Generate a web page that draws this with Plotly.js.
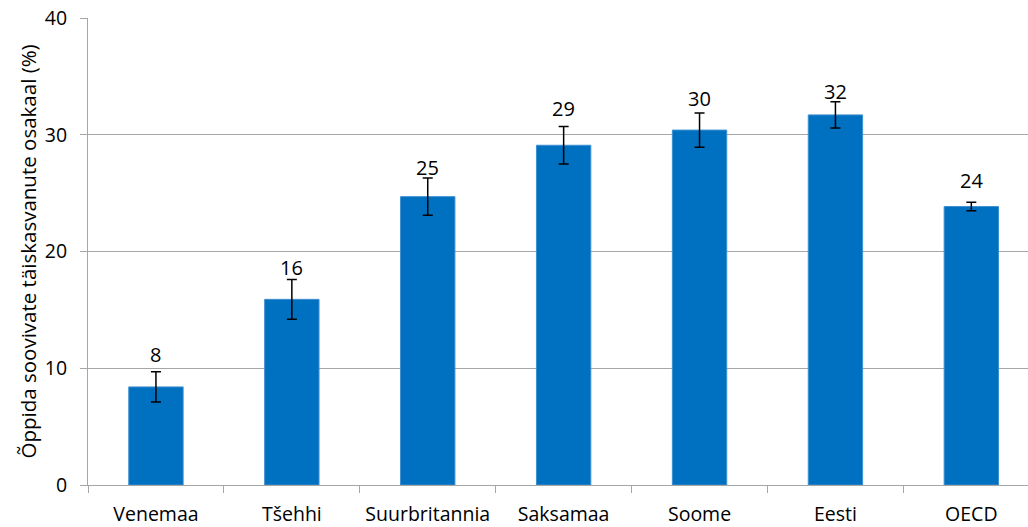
<!DOCTYPE html>
<html>
<head>
<meta charset="utf-8">
<script src="https://cdn.plot.ly/plotly-3.0.1.min.js"></script>
<style>html,body{margin:0;padding:0;background:#fff;}#chart{width:1028px;height:527px;}</style>
</head>
<body>
<div id="chart"></div>
<script>
const categories = ["Venemaa", "Tšehhi", "Suurbritannia", "Saksamaa", "Soome", "Eesti", "OECD"];
const values = [8.4, 15.9, 24.7, 29.1, 30.4, 31.7, 23.85];
const errors = [1.3, 1.7, 1.6, 1.6, 1.46, 1.12, 0.36];
const labels = ["8", "16", "25", "29", "30", "32", "24"];
const yTicks = [0, 10, 20, 30, 40];
const yTitle = "Õppida soovivate täiskasvanute osakaal (%)";

// label vertical offsets above bar top (px), a style setting
const labelShift = [32, 32, 29, 37, 32, 23, 26];

const FONT = "Open Sans, Noto Sans, sans-serif";
const GRID = "#a6a6a6";

const trace = {
  type: "bar",
  x: categories,
  y: values,
  width: 0.4,
  marker: { color: "#0070c0", line: { color: "#3d8fd1", width: 1 } },
  error_y: { type: "data", array: errors, visible: true, color: "#000", thickness: 1.5, width: 5 },
  hoverinfo: "none"
};

const annotations = categories.map((c, i) => ({
  x: c, y: values[i], xref: "x", yref: "y",
  text: labels[i], showarrow: false,
  yanchor: "middle", yshift: labelShift[i],
  font: { family: FONT, size: 20, color: "#000" }
}));
annotations.push({
  x: 0, y: 0.5, xref: "paper", yref: "paper",
  text: yTitle, showarrow: false, textangle: -90,
  xanchor: "center", yanchor: "middle", xshift: -61,
  font: { family: FONT, size: 20.5, color: "#000" }
});

const layout = {
  width: 1028, height: 527,
  margin: { l: 88, r: 0, t: 18, b: 42 },
  paper_bgcolor: "#fff", plot_bgcolor: "#fff",
  showlegend: false,
  font: { family: FONT, size: 20, color: "#000" },
  xaxis: {
    type: "category",
    range: [-0.5, 6.417],
    automargin: false,
    showgrid: false,
    showline: true, linecolor: GRID, linewidth: 1,
    ticks: "outside", tickson: "boundaries", ticklen: 7, tickcolor: GRID,
    ticklabelstandoff: 12,
    tickfont: { family: FONT, size: 19.5, color: "#000" },
    zeroline: false
  },
  yaxis: {
    range: [0, 40],
    automargin: false,
    tickvals: yTicks,
    showgrid: true, gridcolor: GRID, gridwidth: 1,
    showline: true, linecolor: GRID, linewidth: 1,
    ticks: "outside", ticklen: 7, tickcolor: GRID,
    ticklabelstandoff: 9,
    tickfont: { family: FONT, size: 19.5, color: "#000" },
    zeroline: false
  },
  annotations: annotations
};

Plotly.newPlot("chart", [trace], layout, { staticPlot: true, displayModeBar: false });
</script>
</body>
</html>
